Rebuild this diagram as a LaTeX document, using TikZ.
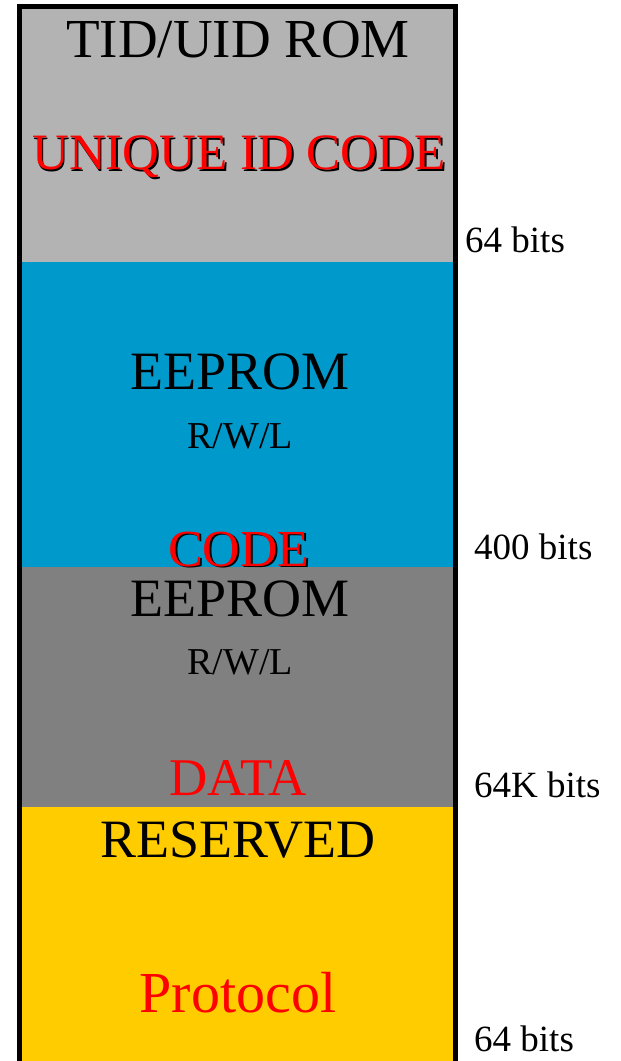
\documentclass[tikz,border=0pt]{standalone}
\usepackage{fontspec}
\setmainfont{Liberation Serif}
\definecolor{romgray}{RGB}{179, 179, 179}
\definecolor{codeblue}{RGB}{0, 153, 204}
\definecolor{datagray}{RGB}{128, 128, 128}
\definecolor{resyellow}{RGB}{255, 204, 0}
\definecolor{labelred}{RGB}{255, 0, 0}
\usetikzlibrary{positioning}
% red text with a black drop shadow
\newcommand{\shadowed}[1]{\makebox[0pt][l]{\hspace{1.8pt}\raisebox{-1.8pt}{\color{black}#1}}#1}

\begin{document}
\begin{tikzpicture}[x=1pt, y=-1pt,
    bigtxt/.style={inner sep=0pt, font=\fontsize{54}{58}\selectfont},
    smalltxt/.style={inner sep=0pt, font=\fontsize{38}{42}\selectfont},
    redtxt/.style={bigtxt, text=labelred},
    sizetxt/.style={inner sep=0pt, anchor=west, font=\fontsize{37}{41}\selectfont}]
    \useasboundingbox (0, 0) rectangle (621, 1061);

    % Memory banks
    \fill[romgray] (19, 6) rectangle (456, 262);
    \fill[codeblue] (19, 262) rectangle (456, 567);
    \fill[datagray] (19, 567) rectangle (456, 807);
    \fill[resyellow] (19, 807) rectangle (456, 1061);

    % Frame
    \draw[line width=5pt] (19.5, 1061) -- (19.5, 6) -- (455.5, 6) -- (455.5, 1061);

    % Bank 0: TID/UID
    \node[bigtxt, font=\fontsize{55}{58}\selectfont] (uidrom) at (238, 40) {TID/UID ROM};
    \node[redtxt, font=\fontsize{51}{54}\selectfont] (uidcode) at (239, 158) {\shadowed{UNIQUE ID CODE}};
    \node[sizetxt] (uidsize) at (465, 240) {64 bits};

    % Bank 1: code
    \node[bigtxt] (epcrom) at (240, 372) {EEPROM};
    \node[smalltxt] (epcrw) at (240, 436) {R/W/L};
    \node[redtxt, font=\fontsize{52}{56}\selectfont] (epccode) at (239, 550) {\shadowed{CODE}};
    \node[sizetxt] (epcsize) at (474, 547) {400 bits};

    % Bank 2: user data
    \node[bigtxt] (userrom) at (240, 599) {EEPROM};
    \node[smalltxt] (userrw) at (240, 662) {R/W/L};
    \node[redtxt, font=\fontsize{53}{56}\selectfont] (userdata) at (238, 778) {DATA};
    \node[sizetxt] (usersize) at (474, 785) {64K bits};

    % Bank 3: reserved
    \node[bigtxt] (resname) at (238, 840) {RESERVED};
    \node[redtxt, font=\fontsize{58}{62}\selectfont] (resproto) at (238, 993) {Protocol};
    \node[sizetxt] (ressize) at (474, 1039) {64 bits};
\end{tikzpicture}
\end{document}
